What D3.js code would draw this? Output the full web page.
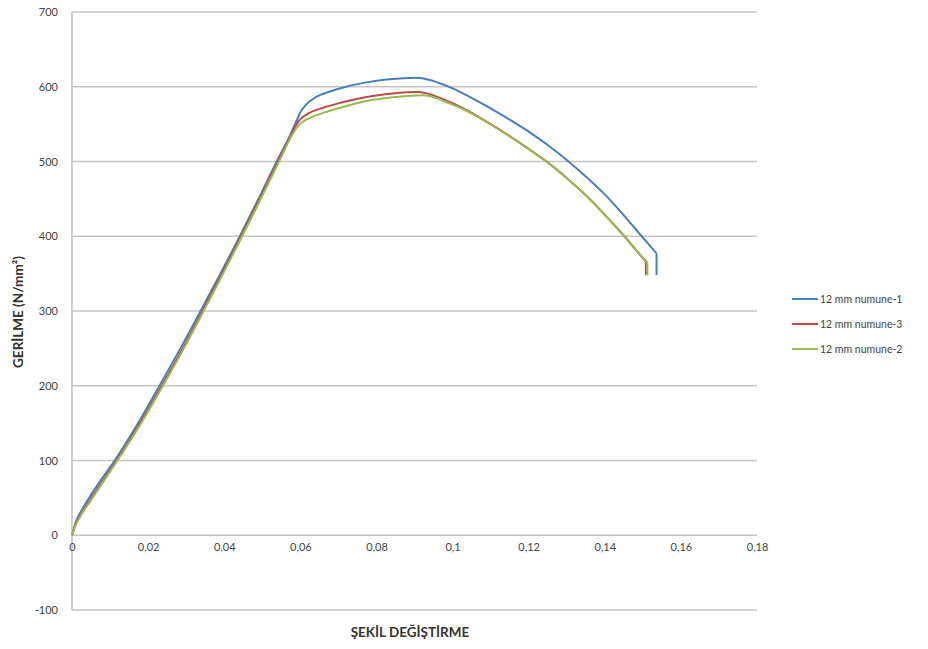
<!DOCTYPE html>
<html>
<head>
<meta charset="utf-8">
<script src="https://cdn.jsdelivr.net/npm/d3@7"></script>
<style>
  html, body { margin: 0; padding: 0; background: #fff; }
  svg { display: block; }
  text { font-family: Lato, "Open Sans", "Liberation Sans", sans-serif; }
</style>
</head>
<body>
<svg id="chart" width="928" height="649"></svg>
<script>
// Tensile test curves: strain (x) vs. stress in N/mm² (y)
const seriesNames = ["12 mm numune-1", "12 mm numune-3", "12 mm numune-2"];
const seriesColors = ["#4a7ebb", "#be4b48", "#98b954"];

const numune1 = [
  [0,0],[0.001,18],[0.0025,33],[0.005,54],[0.0083,79],[0.0115,102],[0.0175,151],
  [0.023,200],[0.0285,250],[0.0338,300],[0.039,350],[0.0441,400],[0.049,450],
  [0.0538,500],[0.0573,535],[0.0588,552],[0.0600,566],[0.0615,576],[0.064,586],
  [0.068,594],[0.072,600],[0.077,605.5],[0.082,609.5],[0.087,611.5],[0.0905,612],
  [0.094,609],[0.097,604],[0.1002,597.5],[0.105,585],[0.11,571],[0.115,556],
  [0.12,540],[0.125,522],[0.13,502],[0.135,480],[0.14,456],[0.145,428],
  [0.1492,403],[0.1536,377],[0.1536,348]
];
const numune3 = [
  [0,0],[0.001,15],[0.0025,29],[0.005,49],[0.0085,76],[0.012,102],[0.018,151],
  [0.0236,200],[0.0291,250],[0.0343,300],[0.0394,350],[0.0444,400],[0.0493,450],
  [0.0541,500],[0.0575,535],[0.0588,548],[0.0599,556],[0.062,564],[0.066,572],
  [0.0705,578.5],[0.0748,583.5],[0.079,587.5],[0.0836,590.5],[0.088,592.5],
  [0.0906,593],[0.093,591.5],[0.0955,587.5],[0.1,578],[0.105,565],[0.11,550],
  [0.115,534],[0.12,517],[0.125,499],[0.13,478],[0.135,455],[0.14,429],
  [0.145,401],[0.1475,386],[0.1508,366],[0.1508,348]
];
const numune2 = [
  [0,0],[0.001,14],[0.0025,28],[0.005,47],[0.0088,76],[0.0122,102],[0.0183,151],
  [0.0239,200],[0.0294,250],[0.0346,300],[0.0397,350],[0.0447,400],[0.0496,450],
  [0.0544,500],[0.0578,535],[0.059,545],[0.0599,550],[0.062,557],[0.066,565],
  [0.0705,572],[0.0748,578],[0.079,582.5],[0.0836,585.5],[0.088,587.5],
  [0.0923,588.5],[0.095,586],[0.098,580],[0.1019,572],[0.105,564],[0.11,549.5],
  [0.115,533.5],[0.12,516.5],[0.125,498.5],[0.13,477.5],[0.135,454.5],[0.14,428.5],
  [0.145,400.5],[0.1475,385.5],[0.1512,365],[0.1512,348]
];
const seriesData = [numune1, numune3, numune2];

const xTicks = [0, 0.02, 0.04, 0.06, 0.08, 0.1, 0.12, 0.14, 0.16, 0.18];
const yTicks = [-100, 0, 100, 200, 300, 400, 500, 600, 700];

const svg = d3.select("#chart");
const plot = { left: 72, right: 757, top: 12, bottom: 610 };

const x = d3.scaleLinear().domain([0, 0.18]).range([plot.left, plot.right]);
const y = d3.scaleLinear().domain([-100, 700]).range([plot.bottom, plot.top]);

// decimal comma, plain hyphen for negatives
const fmtX = v => String(+v.toFixed(2)).replace(".", ",");
const fmtY = v => String(v);

// horizontal gridlines
svg.append("g")
  .selectAll("line")
  .data(yTicks)
  .join("line")
  .attr("x1", plot.left).attr("x2", plot.right)
  .attr("y1", d => y(d)).attr("y2", d => y(d))
  .attr("stroke", "#c4c4c4").attr("stroke-width", 1.6);

// vertical axis line
svg.append("line")
  .attr("x1", plot.left).attr("x2", plot.left)
  .attr("y1", plot.top).attr("y2", plot.bottom)
  .attr("stroke", "#c4c4c4").attr("stroke-width", 1.6);

// y tick labels
const yAxis = d3.axisLeft(y).tickValues(yTicks).tickSize(0).tickPadding(14).tickFormat(fmtY);
const gy = svg.append("g").attr("transform", `translate(${plot.left},0)`).call(yAxis);
gy.select(".domain").remove();
gy.selectAll("text").attr("font-size", 11).attr("fill", "#444")
  .attr("font-family", "Lato, 'Open Sans', sans-serif");

// x tick labels, placed under the zero line
const xAxis = d3.axisBottom(x).tickValues(xTicks).tickSize(0).tickPadding(8).tickFormat(fmtX);
const gx = svg.append("g").attr("transform", `translate(0,${y(0)})`).call(xAxis);
gx.select(".domain").remove();
gx.selectAll("text").attr("font-size", 11).attr("fill", "#444")
  .attr("font-family", "Lato, 'Open Sans', sans-serif");

// curves: smooth body, then the straight drop at fracture
const line = d3.line().x(d => x(d[0])).y(d => y(d[1])).curve(d3.curveMonotoneX);
const lineV = d3.line().x(d => x(d[0])).y(d => y(d[1]));
seriesData.forEach((data, i) => {
  const body = data.slice(0, -1);
  const tail = data.slice(-2);
  const g = svg.append("g").attr("fill", "none").attr("stroke", seriesColors[i])
    .attr("stroke-width", 2).attr("stroke-linejoin", "round");
  g.append("path").attr("d", line(body));
  g.append("path").attr("d", lineV(tail));
});

// legend
const legend = svg.append("g");
seriesNames.forEach((name, i) => {
  const ly = 299 + i * 25;
  legend.append("line").attr("x1", 792).attr("x2", 818).attr("y1", ly).attr("y2", ly)
    .attr("stroke", seriesColors[i]).attr("stroke-width", 2);
  legend.append("text").attr("x", 820).attr("y", ly).attr("dy", "0.35em")
    .attr("font-size", 10.5).attr("fill", "#444").text(name);
});

// axis titles
svg.append("text")
  .attr("x", 410).attr("y", 637)
  .attr("text-anchor", "middle").attr("font-size", 13.5).attr("font-weight", "bold")
  .attr("fill", "#333").text("ŞEKİL DEĞİŞTİRME");

svg.append("text")
  .attr("transform", "translate(23,312) rotate(-90)")
  .attr("text-anchor", "middle").attr("font-size", 13.5).attr("font-weight", "bold")
  .attr("fill", "#333").text("GERİLME (N/mm²)");
</script>
</body>
</html>
